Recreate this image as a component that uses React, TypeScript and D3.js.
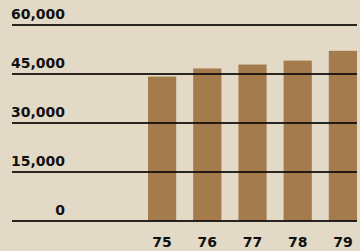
import React from "react";
import * as d3 from "d3";

const categories = ["75", "76", "77", "78", "79"];
const values = [44200, 46700, 47900, 49100, 52100];
const yTicks = [0, 15000, 30000, 45000, 60000];

const W = 360;
const H = 251;

export default function App() {
  const y = d3.scaleLinear().domain([0, 60000]).range([221, 25]);
  const x = d3.scaleBand<string>().domain(categories).range([148, 357]).paddingInner(0.376).paddingOuter(0);
  const fmt = d3.format(",");
  const font = "'DejaVu Sans', sans-serif";
  return (
    <svg width={W} height={H} style={{ position: "fixed", left: 0, top: 0, background: "#e2d9c7" }}>
      <rect x={0} y={0} width={W} height={H} fill="#e2d9c7" />
      {categories.map((c, i) => (
        <rect key={c} x={x(c)} y={y(values[i])} width={x.bandwidth()} height={y(0) - y(values[i])} fill="#a47b4c" />
      ))}
      {yTicks.map((t) => (
        <g key={t}>
          <line x1={12} x2={357} y1={y(t)} y2={y(t)} stroke="#15110d" strokeWidth={2} strokeOpacity={0.9} />
          <text x={65} y={y(t) - 6} textAnchor="end" fontFamily={font} fontWeight="bold" fontSize={14} fill="#111">
            {fmt(t)}
          </text>
        </g>
      ))}
      {categories.map((c) => (
        <text key={c} x={(x(c) as number) + x.bandwidth() / 2} y={247} textAnchor="middle" fontFamily={font} fontWeight="bold" fontSize={14} fill="#111">
          {c}
        </text>
      ))}
    </svg>
  );
}
